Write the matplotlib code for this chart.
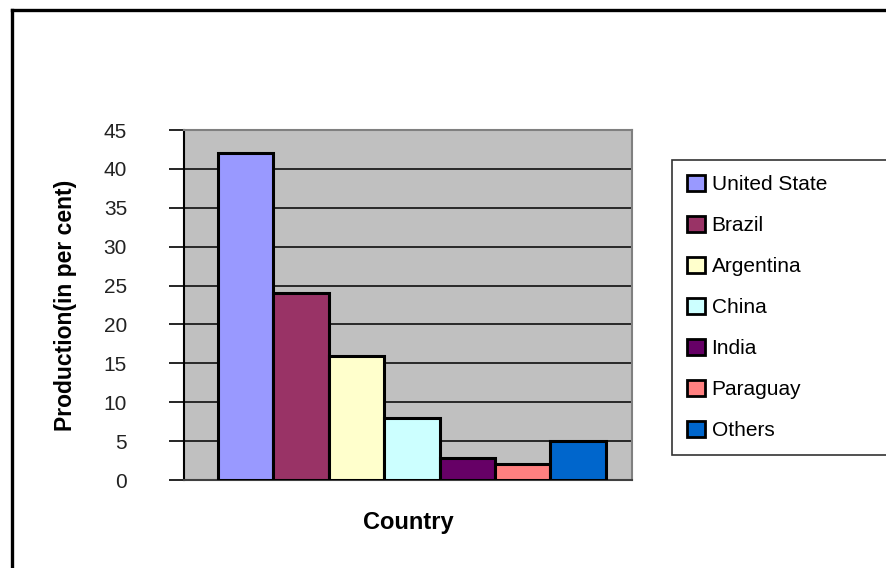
import matplotlib.pyplot as plt
from matplotlib.lines import Line2D

plt.rcParams['font.family'] = ['Liberation Sans', 'DejaVu Sans']

countries = ["United State", "Brazil", "Argentina", "China", "India", "Paraguay", "Others"]
production = [42, 24, 16, 8, 2.8, 2, 5]
colors = ["#9999FF", "#993366", "#FFFFCC", "#CCFFFF", "#660066", "#FF8080", "#0066CC"]
yticks = [0, 5, 10, 15, 20, 25, 30, 35, 40, 45]

fig = plt.figure(figsize=(8.87, 5.68), dpi=100)
ax = fig.add_axes([184 / 887, 1 - 480 / 568, 448 / 887, 350 / 568])
ax.set_facecolor("#C0C0C0")

# one group, series side by side
for i, (name, val, col) in enumerate(zip(countries, production, colors)):
    ax.bar(i, val, width=1.0, color=col, edgecolor="black", linewidth=2.2, label=name, zorder=3)

ax.set_ylim(0, 45)
ax.set_xlim(-0.5 - 0.61, 6.5 + 0.47)
ax.set_yticks(yticks)
ax.set_yticklabels([str(t) for t in yticks], fontsize=15, color="#222222")
ax.tick_params(axis="y", length=11, width=1.2, pad=30)
ax.set_xticks([])
ax.yaxis.grid(True, color="black", linewidth=1.1, zorder=1)
ax.set_axisbelow(True)

for s in ["top", "right"]:
    ax.spines[s].set_color("#808080")
    ax.spines[s].set_linewidth(1.5)
ax.spines["left"].set_color("black")
ax.spines["left"].set_linewidth(1.5)
ax.spines["bottom"].set_color("#404040")
ax.spines["bottom"].set_linewidth(1.5)

ax.set_ylabel("Production(in per cent)", fontsize=16.5, fontweight="bold", labelpad=19)
ax.set_xlabel("Country", fontsize=17, fontweight="bold", labelpad=22)

leg_top = 1 - 160 / 568
leg = fig.legend(loc="upper left", bbox_to_anchor=(672 / 887, leg_top - 0.01, 0.3, 0.01),
                 mode="expand", fontsize=15, frameon=True, fancybox=False,
                 handlelength=0.9, handleheight=0.8, handletextpad=0.3,
                 labelspacing=1.05, borderpad=0.7, borderaxespad=0)
leg.get_frame().set_edgecolor("black")
leg.get_frame().set_linewidth(1.2)
for h in leg.legend_handles:
    h.set_linewidth(2.0)

# outer chart border (only left and top visible in the picture)
fig.add_artist(Line2D([12.5 / 887, 12.5 / 887], [0, 1 - 9.5 / 568], transform=fig.transFigure,
                      color="black", linewidth=2.4))
fig.add_artist(Line2D([12.5 / 887, 1], [1 - 9.5 / 568, 1 - 9.5 / 568], transform=fig.transFigure,
                      color="black", linewidth=2.4))

fig.savefig("out.png", dpi=100)
